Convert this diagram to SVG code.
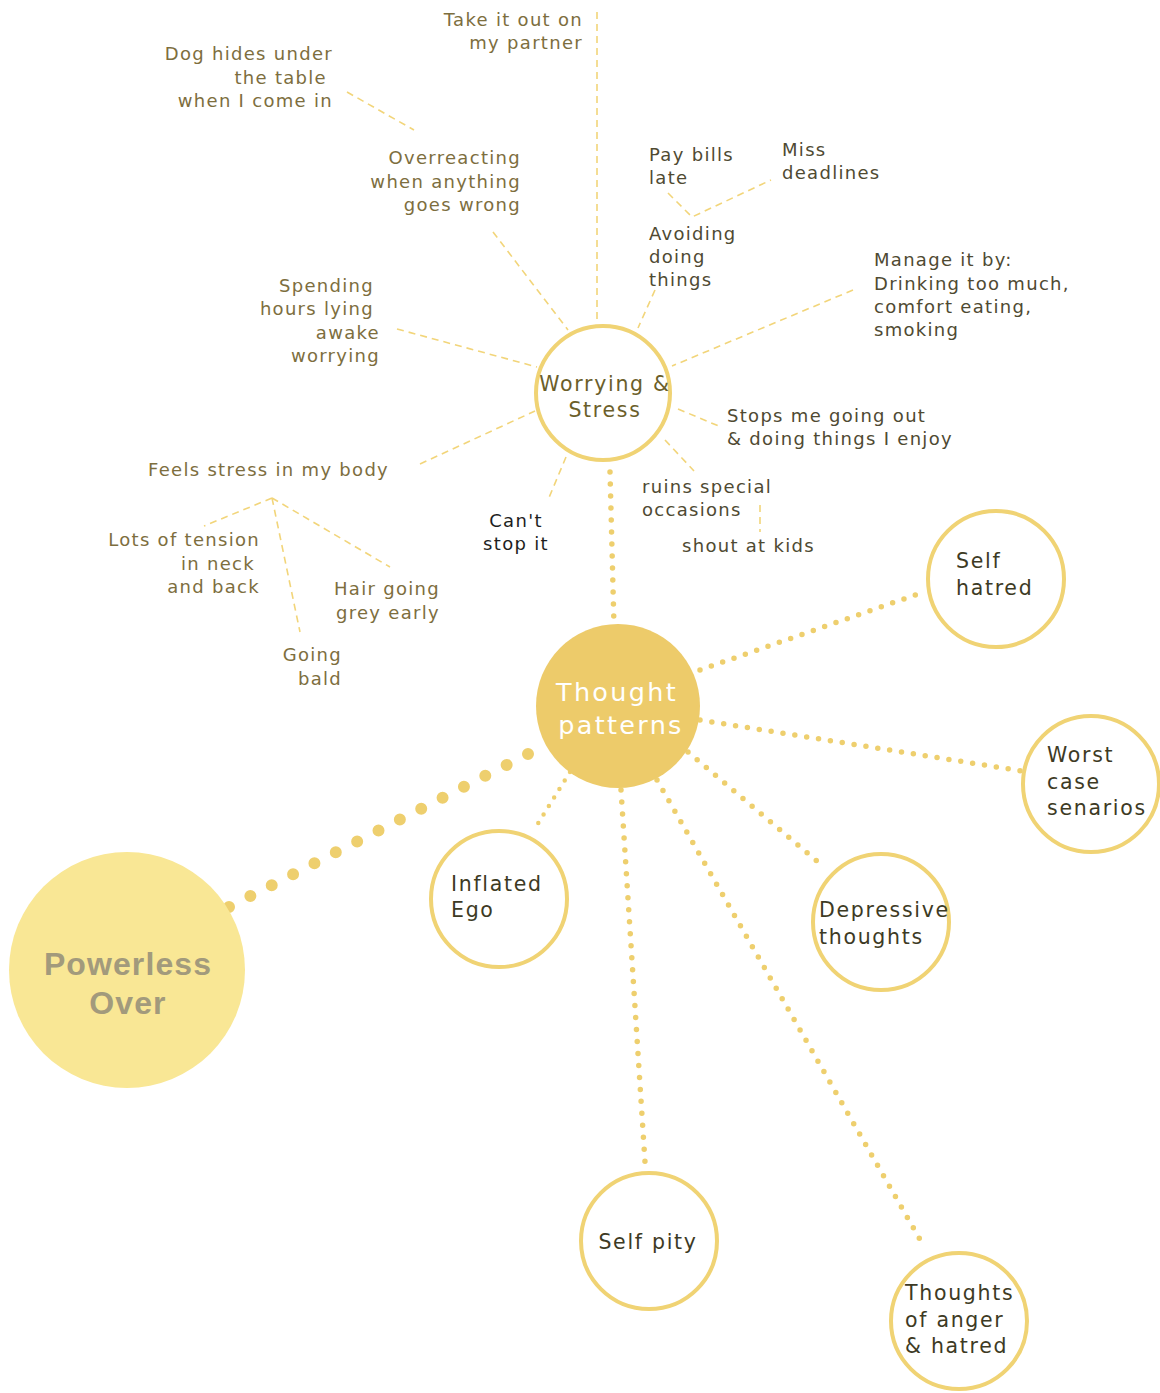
<svg xmlns="http://www.w3.org/2000/svg" width="1160" height="1393" viewBox="0 0 1160 1393">
<style>
text{font-family:"DejaVu Sans","Liberation Sans",sans-serif;}
.lbl{font-size:18px;letter-spacing:1.3px;fill:#7d6e3e;}
.dk{font-size:18px;letter-spacing:1.3px;fill:#4f4a32;}
.bk{font-size:18px;letter-spacing:1.3px;fill:#1e1e1e;}
.node{font-size:20.5px;letter-spacing:1.7px;fill:#3d3a24;}
.dash{fill:none;stroke:#f2d57a;stroke-width:1.6;stroke-dasharray:7 5;}
.dot{fill:none;stroke:#eecf6e;stroke-width:5.5;stroke-linecap:round;stroke-dasharray:0 12;}
.ring{fill:#fff;stroke:#f0d374;stroke-width:4;}
</style>
<rect width="1160" height="1393" fill="#fff"/>
<g id="connectors">
<line class="dash" x1="597" y1="12" x2="597" y2="320"/>
<line class="dash" x1="347" y1="92" x2="414" y2="130"/>
<line class="dash" x1="493" y1="232" x2="568" y2="330"/>
<line class="dash" x1="655" y1="290" x2="638" y2="328"/>
<polyline class="dash" points="668,193 692,217 771,180"/>
<line class="dash" x1="853" y1="290" x2="672" y2="366"/>
<line class="dash" x1="397" y1="329" x2="537" y2="367"/>
<line class="dash" x1="420" y1="464" x2="535" y2="411"/>
<line class="dash" x1="678" y1="409" x2="721" y2="427"/>
<line class="dash" x1="665" y1="440" x2="694" y2="471"/>
<line class="dash" x1="566" y1="457" x2="548" y2="500"/>
<line class="dash" x1="760" y1="505" x2="760" y2="532"/>
<line class="dash" x1="272" y1="498" x2="204" y2="526"/>
<line class="dash" x1="272" y1="498" x2="300" y2="632"/>
<line class="dash" x1="272" y1="498" x2="390" y2="567"/>
<line class="dot" x1="610" y1="472" x2="614" y2="626"/>
<line class="dot" x1="700" y1="670" x2="918" y2="594"/>
<line class="dot" x1="700" y1="720" x2="1022" y2="771"/>
<line class="dot" x1="688" y1="752" x2="818" y2="862"/>
<line class="dot" x1="657" y1="780" x2="922" y2="1243"/>
<line class="dot" x1="621" y1="790" x2="645" y2="1162"/>
<line class="dot" style="stroke-width:4.5;stroke-dasharray:0 10" x1="570" y1="772" x2="537" y2="825"/>
<line class="dot" style="stroke-width:12;stroke-dasharray:0 23.99" x1="528" y1="754" x2="229" y2="907"/>
</g>
<g id="labels">
<text class="lbl" text-anchor="end"><tspan x="583" y="26">Take it out on</tspan><tspan x="583" y="49">my partner</tspan></text>
<text class="lbl" text-anchor="end"><tspan x="333" y="60">Dog hides under</tspan><tspan x="327" y="84">the table</tspan><tspan x="333" y="107">when I come in</tspan></text>
<text class="lbl" text-anchor="end"><tspan x="521" y="164">Overreacting</tspan><tspan x="521" y="188">when anything</tspan><tspan x="521" y="211">goes wrong</tspan></text>
<text class="dk"><tspan x="649" y="161">Pay bills</tspan><tspan x="649" y="184">late</tspan></text>
<text class="dk"><tspan x="782" y="156">Miss</tspan><tspan x="782" y="179">deadlines</tspan></text>
<text class="dk"><tspan x="649" y="240">Avoiding</tspan><tspan x="649" y="263">doing</tspan><tspan x="649" y="286">things</tspan></text>
<text class="dk"><tspan x="874" y="266">Manage it by:</tspan><tspan x="874" y="290">Drinking too much,</tspan><tspan x="874" y="313">comfort eating,</tspan><tspan x="874" y="336">smoking</tspan></text>
<text class="lbl" text-anchor="end"><tspan x="374" y="292">Spending</tspan><tspan x="374" y="315">hours lying</tspan><tspan x="380" y="339">awake</tspan><tspan x="380" y="362">worrying</tspan></text>
<text class="dk"><tspan x="727" y="422">Stops me going out</tspan><tspan x="727" y="445">&amp; doing things I enjoy</tspan></text>
<text class="lbl" x="148" y="476">Feels stress in my body</text>
<text class="dk"><tspan x="642" y="493">ruins special</tspan><tspan x="642" y="516">occasions</tspan></text>
<text class="bk" text-anchor="middle"><tspan x="516" y="527">Can't</tspan><tspan x="516" y="550">stop it</tspan></text>
<text class="dk" x="682" y="552">shout at kids</text>
<text class="lbl" text-anchor="end"><tspan x="260" y="546">Lots of tension</tspan><tspan x="255" y="570">in neck</tspan><tspan x="260" y="593">and back</tspan></text>
<text class="lbl" text-anchor="end"><tspan x="440" y="595">Hair going</tspan><tspan x="440" y="619">grey early</tspan></text>
<text class="lbl" text-anchor="end"><tspan x="342" y="661">Going</tspan><tspan x="342" y="685">bald</tspan></text>
</g>
<g id="worrying">
<circle class="ring" cx="603" cy="393" r="67"/>
<text text-anchor="middle" style="font-size:20.5px;letter-spacing:1.7px;fill:#6b5e2a"><tspan x="605" y="391">Worrying &amp;</tspan><tspan x="605" y="417">Stress</tspan></text>
</g>
<g id="thought-patterns">
<circle cx="618" cy="706" r="82" fill="#edcb6a"/>
<text text-anchor="middle" style="font-size:25.5px;letter-spacing:2.3px;fill:#fff"><tspan x="617" y="701">Thought</tspan><tspan x="621" y="734">patterns</tspan></text>
</g>
<g id="powerless-over">
<circle cx="127" cy="970" r="118" fill="#f9e795"/>
<text text-anchor="middle" style="font-family:'Liberation Sans',sans-serif;font-size:32px;font-weight:bold;letter-spacing:1.1px;fill:#a29a7c"><tspan x="128" y="975">Powerless</tspan><tspan x="128" y="1014">Over</tspan></text>
</g>
<g id="inflated-ego">
<circle class="ring" cx="499" cy="899" r="68"/>
<text class="node"><tspan x="451" y="891">Inflated</tspan><tspan x="451" y="917">Ego</tspan></text>
</g>
<g id="self-hatred">
<circle class="ring" cx="996" cy="579" r="68"/>
<text class="node"><tspan x="956" y="568">Self</tspan><tspan x="956" y="595">hatred</tspan></text>
</g>
<g id="worst-case">
<circle class="ring" cx="1091" cy="784" r="68"/>
<text class="node"><tspan x="1047" y="762">Worst</tspan><tspan x="1047" y="789">case</tspan><tspan x="1047" y="815">senarios</tspan></text>
</g>
<g id="depressive">
<circle class="ring" cx="881" cy="922" r="68"/>
<text class="node"><tspan x="819" y="917">Depressive</tspan><tspan x="819" y="944">thoughts</tspan></text>
</g>
<g id="self-pity">
<circle class="ring" cx="649" cy="1241" r="68"/>
<text class="node" text-anchor="middle" x="648" y="1249">Self pity</text>
</g>
<g id="anger">
<circle class="ring" cx="959" cy="1321" r="68"/>
<text class="node"><tspan x="905" y="1300">Thoughts</tspan><tspan x="905" y="1327">of anger</tspan><tspan x="905" y="1353">&amp; hatred</tspan></text>
</g>
</svg>
